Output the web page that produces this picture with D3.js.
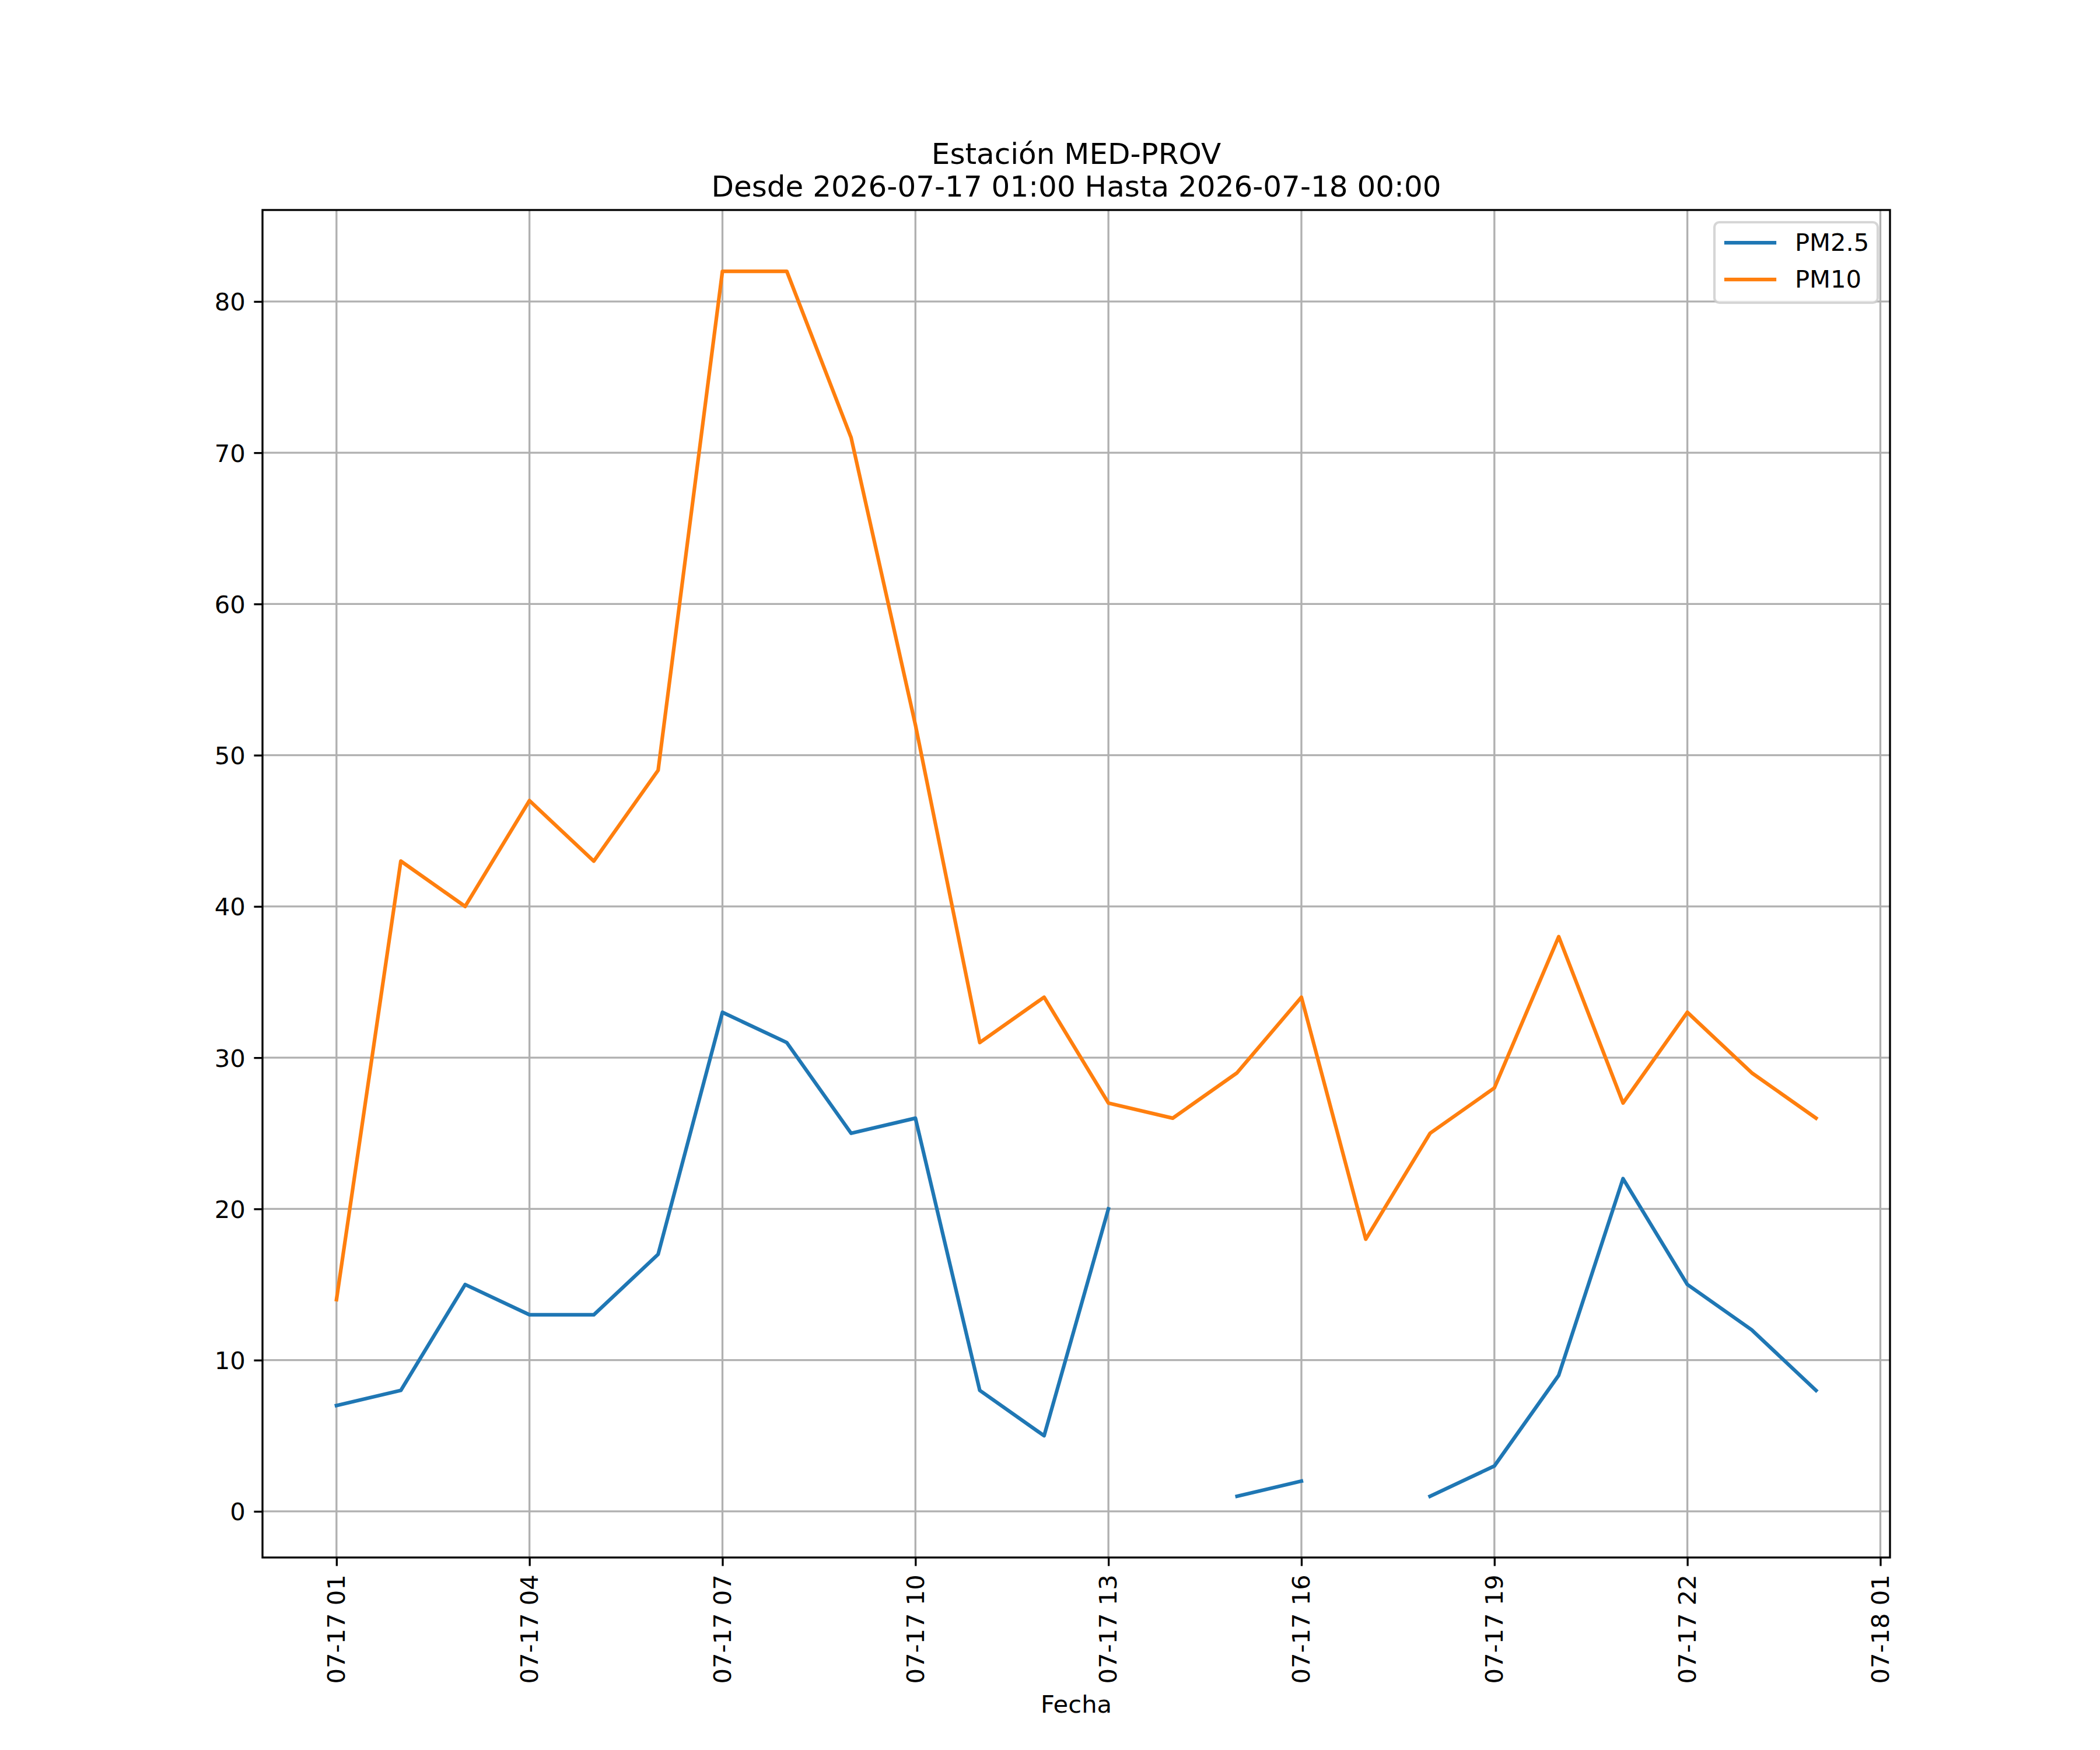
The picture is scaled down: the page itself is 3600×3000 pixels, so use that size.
<!DOCTYPE html>
<html>
<head>
<meta charset="utf-8">
<script src="https://cdn.jsdelivr.net/npm/d3@7"></script>
<style>
  body { margin: 0; background: #fff; }
  text { font-family: "DejaVu Sans", sans-serif; }
</style>
</head>
<body>
<div id="chart"></div>
<script>
// Hourly readings, station MED-PROV
const times = [
	"2026-07-17 01:00", "2026-07-17 02:00", "2026-07-17 03:00", "2026-07-17 04:00",
	"2026-07-17 05:00", "2026-07-17 06:00", "2026-07-17 07:00", "2026-07-17 08:00",
	"2026-07-17 09:00", "2026-07-17 10:00", "2026-07-17 11:00", "2026-07-17 12:00",
	"2026-07-17 13:00", "2026-07-17 14:00", "2026-07-17 15:00", "2026-07-17 16:00",
	"2026-07-17 17:00", "2026-07-17 18:00", "2026-07-17 19:00", "2026-07-17 20:00",
	"2026-07-17 21:00", "2026-07-17 22:00", "2026-07-17 23:00", "2026-07-18 00:00"
];
const pm25 = [7, 8, 15, 13, 13, 17, 33, 31, 25, 26, 8, 5, 20, null, 1, 2, null, 1, 3, 9, 22, 15, 12, 8];
const pm10 = [14, 43, 40, 47, 43, 49, 82, 82, 71, 52, 31, 34, 27, 26, 29, 34, 18, 25, 28, 38, 27, 33, 29, 26];

const seriesNames = ["PM2.5", "PM10"];
const seriesColors = ["#1f77b4", "#ff7f0e"];
const yTicks = [0, 10, 20, 30, 40, 50, 60, 70, 80];

const titleLines = ["Estación MED-PROV", "Desde 2026-07-17 01:00 Hasta 2026-07-18 00:00"];
const xLabel = "Fecha";

const W = 3600, H = 3000;
const M = {left: 450, right: 3240, top: 360, bottom: 2670};
const FS = 41.67;		// 10pt at 300 dpi
const TICK = 14.58;		// tick length & pad

const parse = d3.timeParse("%Y-%m-%d %H:%M");
const dates = times.map(parse);
const fmt = d3.timeFormat("%m-%d %H");

const svg = d3.select("#chart").append("svg")
	.attr("width", W)
	.attr("height", H)
	.style("background", "#fff");

// x scale with 5% margins like matplotlib
const t0 = dates[0], t1 = dates[dates.length - 1];
const span = t1 - t0;
const x = d3.scaleTime()
	.domain([new Date(+t0 - span * 0.05), new Date(+t1 + span * 0.05)])
	.range([M.left, M.right]);

const allVals = pm25.concat(pm10).filter(v => v != null);
const yMin = d3.min(allVals), yMax = d3.max(allVals);
const yPad = (yMax - yMin) * 0.05;
const y = d3.scaleLinear()
	.domain([yMin - yPad, yMax + yPad])
	.range([M.bottom, M.top]);

const xTicks = d3.timeHour.range(t0, x.domain()[1], 3);

// grid
const grid = svg.append("g").attr("class", "grid");
grid.selectAll("line.gx")
	.data(xTicks)
	.enter().append("line")
	.attr("x1", d => x(d)).attr("x2", d => x(d))
	.attr("y1", M.top).attr("y2", M.bottom)
	.attr("stroke", "#b0b0b0")
	.attr("stroke-width", 3.33);
grid.selectAll("line.gy")
	.data(yTicks)
	.enter().append("line")
	.attr("x1", M.left).attr("x2", M.right)
	.attr("y1", d => y(d)).attr("y2", d => y(d))
	.attr("stroke", "#b0b0b0")
	.attr("stroke-width", 3.33);

// lines
const series = [pm25, pm10];
const line = d3.line()
	.defined(d => d.v != null)
	.x(d => x(d.t))
	.y(d => y(d.v));

series.forEach(function(vals, i) {
	const pts = vals.map((v, j) => ({t: dates[j], v: v}));
	svg.append("path")
		.datum(pts)
		.attr("d", line)
		.attr("fill", "none")
		.attr("stroke", seriesColors[i])
		.attr("stroke-width", 6.25)
		.attr("stroke-linejoin", "round")
		.attr("stroke-linecap", "square");
});

// axes
const xAxis = svg.append("g")
	.attr("transform", "translate(0," + M.bottom + ")")
	.call(d3.axisBottom(x).tickValues(xTicks).tickFormat(fmt).tickSize(TICK).tickPadding(TICK));
xAxis.select(".domain").remove();
xAxis.selectAll(".tick line").attr("stroke", "#000").attr("stroke-width", 3.33);
xAxis.selectAll(".tick text")
	.attr("font-size", FS)
	.attr("fill", "#000")
	.attr("transform", "rotate(-90)")
	.attr("x", -(TICK * 2))
	.attr("y", 0)
	.attr("dy", "0.33em")
	.attr("text-anchor", "end");

const yAxis = svg.append("g")
	.attr("transform", "translate(" + M.left + ",0)")
	.call(d3.axisLeft(y).tickValues(yTicks).tickSize(TICK).tickPadding(TICK));
yAxis.select(".domain").remove();
yAxis.selectAll(".tick line").attr("stroke", "#000").attr("stroke-width", 3.33);
yAxis.selectAll(".tick text")
	.attr("font-size", FS)
	.attr("fill", "#000")
	.attr("dy", "0.36em");

// spines
svg.append("rect")
	.attr("x", M.left).attr("y", M.top)
	.attr("width", M.right - M.left)
	.attr("height", M.bottom - M.top)
	.attr("fill", "none")
	.attr("stroke", "#000")
	.attr("stroke-width", 3.33);

// title
svg.append("g").selectAll("text")
	.data(titleLines)
	.enter().append("text")
	.attr("x", (M.left + M.right) / 2)
	.attr("y", (d, i) => 281 + i * 56)
	.attr("text-anchor", "middle")
	.attr("font-size", 50)
	.attr("fill", "#000")
	.text(d => d);

// x label
svg.append("text")
	.attr("x", (M.left + M.right) / 2)
	.attr("y", 2936)
	.attr("text-anchor", "middle")
	.attr("font-size", FS)
	.attr("fill", "#000")
	.text(xLabel);

// legend
const lg = svg.append("g");
const lgX = 2939, lgY = 381, lgW = 280, lgH = 138;
lg.append("rect")
	.attr("x", lgX).attr("y", lgY)
	.attr("width", lgW).attr("height", lgH)
	.attr("rx", 8.3)
	.attr("fill", "#fff")
	.attr("fill-opacity", 0.8)
	.attr("stroke", "#cccccc")
	.attr("stroke-opacity", 0.8)
	.attr("stroke-width", 4.17);

const items = lg.selectAll("g.item")
	.data(seriesNames)
	.enter().append("g")
	.attr("transform", (d, i) => "translate(0," + (416 + i * 63) + ")");
items.append("line")
	.attr("x1", 2959).attr("x2", 3042)
	.attr("stroke", (d, i) => seriesColors[i])
	.attr("stroke-width", 6.25)
	.attr("stroke-linecap", "square");
items.append("text")
	.attr("x", 3077)
	.attr("y", 14)
	.attr("font-size", FS)
	.attr("fill", "#000")
	.text(d => d);
</script>
</body>
</html>
